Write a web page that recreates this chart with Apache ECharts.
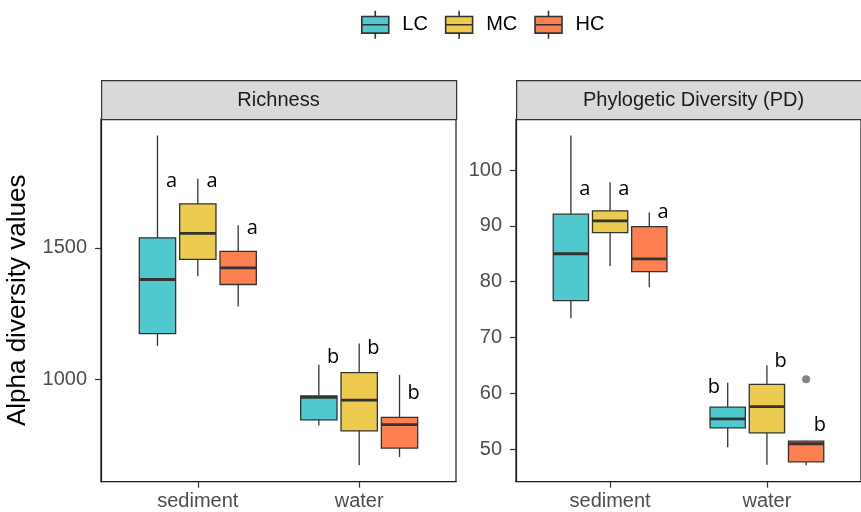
<!DOCTYPE html>
<html>
<head>
<meta charset="utf-8">
<script src="https://cdn.jsdelivr.net/npm/echarts@6/dist/echarts.min.js"></script>
<style>html,body{margin:0;padding:0;background:#fff}#c{width:861px;height:512px}</style>
</head>
<body>
<div id="c"></div>
<script>
// ---------- data ----------
const categories = ['sediment', 'water'];
const groups = ['LC', 'MC', 'HC'];
const colors = ['#4FC8CE', '#ECCB4E', '#FE7F4F'];
const panelTitles = ['Richness', 'Phylogetic Diversity (PD)'];
const yTitle = 'Alpha diversity values';

// box stats per category: [lowerWhisker, Q1, median, Q3, upperWhisker]
const richLC = [[1129, 1175, 1380, 1538, 1926], [827, 848, 933, 939, 1057]];
const richMC = [[1392, 1456, 1555, 1667, 1762], [676, 806, 923, 1027, 1137]];
const richHC = [[1278, 1361, 1424, 1487, 1586], [707, 741, 830, 857, 1018]];
const pdLC = [[73.45, 76.6, 85.0, 92.1, 106.2], [50.3, 53.8, 55.4, 57.5, 61.9]];
const pdMC = [[82.8, 88.8, 90.9, 92.7, 97.8], [47.2, 52.9, 57.6, 61.6, 65.0]];
const pdHC = [[79.0, 81.8, 84.1, 89.85, 92.4], [47.1, 47.7, 50.95, 51.4, 51.5]];
// outliers: [categoryIndex, value]
const pdHCOutliers = [[1, 62.5]];

// significance letters (per category: LC, MC, HC) and their heights
const richLetters = [['a', 'a', 'a'], ['b', 'b', 'b']];
const richLetterY = [[1751, 1751, 1576], [1087, 1118, 947]];
const pdLetters = [['a', 'a', 'a'], ['b', 'b', 'b']];
const pdLetterY = [[96.5, 96.5, 92.5], [61.1, 65.8, 54.2]];
const pdLetterSide = [[1, 1, 1], [-1, 1, 1]];
const richLetterSide = [[1, 1, 1], [1, 1, 1]];

// ---------- layout / style ----------
const FONT = '"Liberation Sans", Arial, Helvetica, sans-serif';
const gridTop = 119, gridH = 362.7, gridW = 355;
const gridLefts = [101, 516];
const stripH = 39;
const dodge = [-0.25, 0, 0.25];
const boxW = 0.225;
const letterShift = 0.088;
const lineCol = '#333333';

function expandRange(arrs, extra) {
  let lo = Infinity, hi = -Infinity;
  arrs.forEach(a => a.forEach(r => r.forEach(v => { lo = Math.min(lo, v); hi = Math.max(hi, v); })));
  (extra || []).forEach(v => { lo = Math.min(lo, v); hi = Math.max(hi, v); });
  const d = (hi - lo) * 0.05;
  return [lo - d, hi + d];
}
const richRange = expandRange([richLC, richMC, richHC]);
const pdRange = expandRange([pdLC, pdMC, pdHC], pdHCOutliers.map(o => o[1]));

function boxSeries(name, stats, gi, panel) {
  return {
    type: 'custom',
    name: name,
    xAxisIndex: panel, yAxisIndex: panel,
    itemStyle: { color: colors[gi] },
    encode: { x: 0, y: [1, 2, 3, 4, 5] },
    data: stats.map((s, ci) => [ci + 1].concat(s)),
    renderItem: function (params, api) {
      const xc = api.value(0) + dodge[gi];
      const mn = api.value(1), q1 = api.value(2), md = api.value(3), q3 = api.value(4), mx = api.value(5);
      const c = (x, y) => api.coord([x, y]);
      const tl = c(xc - boxW / 2, q3), br = c(xc + boxW / 2, q1);
      const topA = c(xc, q3), topB = c(xc, mx), botA = c(xc, q1), botB = c(xc, mn);
      const mL = c(xc - boxW / 2, md), mR = c(xc + boxW / 2, md);
      const ls = { stroke: lineCol, lineWidth: 1.3 };
      return {
        type: 'group',
        children: [
          { type: 'line', shape: { x1: topA[0], y1: topA[1], x2: topB[0], y2: topB[1] }, style: ls },
          { type: 'line', shape: { x1: botA[0], y1: botA[1], x2: botB[0], y2: botB[1] }, style: ls },
          { type: 'rect', shape: { x: tl[0], y: tl[1], width: br[0] - tl[0], height: br[1] - tl[1] },
            style: { fill: colors[gi], stroke: lineCol, lineWidth: 1.3 } },
          { type: 'line', shape: { x1: mL[0], y1: mL[1], x2: mR[0], y2: mR[1] },
            style: { stroke: lineCol, lineWidth: 2.8 } }
        ]
      };
    },
    z: 3
  };
}

function letterSeries(letters, ys, sides, panel) {
  const data = [], txt = [];
  ys.forEach((row, ci) => row.forEach((y, gi) => {
    data.push([ci + 1 + dodge[gi] + letterShift * sides[ci][gi], y]);
    txt.push(letters[ci][gi]);
  }));
  return {
    type: 'custom',
    name: 'letters' + panel,
    xAxisIndex: panel, yAxisIndex: panel,
    encode: { x: 0, y: 1 },
    data: data,
    renderItem: function (params, api) {
      const p = api.coord([api.value(0), api.value(1)]);
      return {
        type: 'text',
        x: p[0], y: p[1],
        style: { text: txt[params.dataIndex], fill: '#000', font: '20px "Open Sans", "DejaVu Sans", sans-serif',
                 align: 'center', verticalAlign: 'middle' }
      };
    },
    z: 4
  };
}

function xAxisCfg(gi) {
  return {
    type: 'value', gridIndex: gi, min: 0.4, max: 2.6,
    axisLine: { show: true, onZero: false, lineStyle: { color: '#1a1a1a', width: 1.2 } },
    axisTick: { show: true, length: 6, customValues: [1, 2], lineStyle: { color: lineCol, width: 1.2 } },
    axisLabel: { show: true, customValues: [1, 2], margin: 10, color: '#4D4D4D', fontSize: 20, fontFamily: FONT,
                 formatter: v => categories[Math.round(v) - 1] || '' },
    splitLine: { show: false }
  };
}
function yAxisCfg(gi, range, ticks, extra) {
  return Object.assign({
    type: 'value', gridIndex: gi, min: range[0], max: range[1],
    axisLine: { show: true, onZero: false, lineStyle: { color: '#1a1a1a', width: 1.2 } },
    axisTick: { show: true, length: 6, customValues: ticks, lineStyle: { color: lineCol, width: 1.2 } },
    axisLabel: { show: true, customValues: ticks, margin: 14, color: '#4D4D4D', fontSize: 20, fontFamily: FONT,
                 formatter: v => String(v) },
    splitLine: { show: false }
  }, extra || {});
}

const graphics = [];
gridLefts.forEach((gl, i) => {
  graphics.push({ type: 'rect', left: gl, top: gridTop - stripH, z: 10,
    shape: { width: gridW, height: stripH },
    style: { fill: '#D9D9D9', stroke: '#333', lineWidth: 1.2 } });
  graphics.push({ type: 'text', z: 11, x: gl + gridW / 2, y: gridTop - stripH / 2 + 1,
    style: { text: panelTitles[i], fill: '#1A1A1A', font: '20px ' + FONT, align: 'center', verticalAlign: 'middle' } });
});

const series = [
  boxSeries('LC', richLC, 0, 0), boxSeries('MC', richMC, 1, 0), boxSeries('HC', richHC, 2, 0),
  boxSeries('LC', pdLC, 0, 1), boxSeries('MC', pdMC, 1, 1), boxSeries('HC', pdHC, 2, 1),
  {
    type: 'scatter', name: 'outlier', xAxisIndex: 1, yAxisIndex: 1,
    data: pdHCOutliers.map(o => [o[0] + 1 + dodge[2], o[1]]),
    symbolSize: 8, itemStyle: { color: '#666' }, z: 4
  },
  letterSeries(richLetters, richLetterY, richLetterSide, 0),
  letterSeries(pdLetters, pdLetterY, pdLetterSide, 1)
];

const chart = echarts.init(document.getElementById('c'), null, { renderer: 'canvas' });
chart.setOption({
  animation: false,
  backgroundColor: '#fff',
  legend: {
    data: groups, left: 356, top: 5, orient: 'horizontal',
    itemWidth: 28, itemHeight: 28, itemGap: 17,
    icon: 'path://M0,5.5 L26,5.5 L26,21.5 L0,21.5 Z M0,13.5 L26,13.5 M13,0 L13,5.5 M13,21.5 L13,27',
    itemStyle: { borderColor: '#333', borderWidth: 1.6 },
    textStyle: { fontSize: 20, fontFamily: FONT, color: '#000', padding: [0, 0, 0, 8] }
  },
  grid: gridLefts.map(gl => ({ left: gl, top: gridTop, width: gridW, height: gridH, show: true,
    borderColor: '#1a1a1a', borderWidth: 1.2, backgroundColor: 'transparent' })),
  xAxis: [xAxisCfg(0), xAxisCfg(1)],
  yAxis: [
    yAxisCfg(0, richRange, [1000, 1500], { name: yTitle, nameLocation: 'middle', nameGap: 70, nameRotate: 90,
      nameTextStyle: { fontSize: 26, fontFamily: FONT, color: '#000' } }),
    yAxisCfg(1, pdRange, [50, 60, 70, 80, 90, 100])
  ],
  graphic: graphics,
  series: series
});
</script>
</body>
</html>
